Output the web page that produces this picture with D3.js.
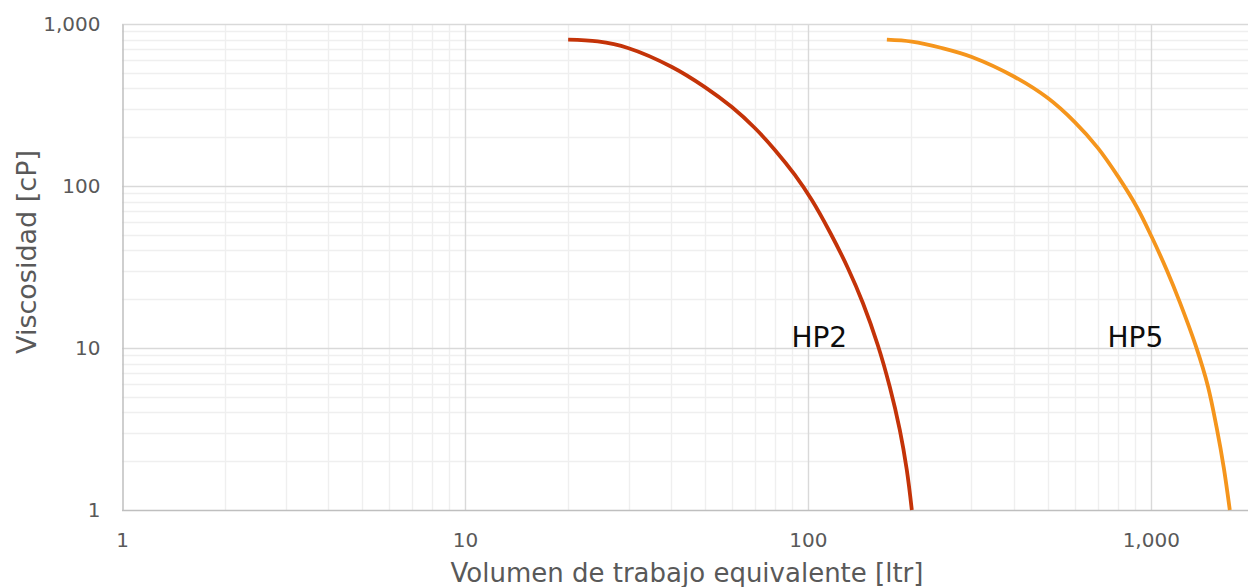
<!DOCTYPE html>
<html><head><meta charset="utf-8">
<script src="https://cdn.jsdelivr.net/npm/d3@7"></script>
<style>body{margin:0;background:#fff;overflow:hidden}svg{display:block}</style>
</head><body>
<svg id="c" width="1248" height="587"></svg>
<script>
// Data
const hp2Vol  = [20, 24.4, 29.87, 40.13, 50.09, 60.03, 70.05, 80.14, 91.65, 102.7, 115.9, 130.8, 144.7, 160.0, 173.4, 185.4, 194.3, 201];
const hp2Visc = [800, 780, 711, 543, 408, 307, 228, 167, 117, 81.9, 52.0, 31.2, 18.96, 10.4, 5.74, 3.12, 1.77, 1];
const hp5Vol  = [170, 201, 245.9, 300.7, 401.3, 500.9, 600.3, 700.7, 801.4, 910.4, 1006.7, 1113, 1215, 1353, 1467, 1557, 1633, 1700];
const hp5Visc = [800, 778, 711, 626, 471, 349, 248, 172, 115, 74.2, 48.4, 30.3, 19.2, 10.3, 5.83, 3.21, 1.82, 1];
const seriesNames = ["HP2", "HP5"];
const xTickValues = [1, 10, 100, 1000];
const xTickLabels = ["1", "10", "100", "1,000"];
const yTickValues = [1, 10, 100, 1000];
const yTickLabels = ["1", "10", "100", "1,000"];
const labelVol  = [108, 902];
const labelVisc = [10, 10];

const svg = d3.select("#c");
const L = 122, R = 1254, T = 24, B = 510;
const FONT = "'DejaVu Sans', sans-serif";
const x = d3.scaleLog().domain([1, 2000]).range([L, R]);
const y = d3.scaleLog().domain([1, 1000]).range([B, T]);

const g = svg.append("g");
// minor gridlines
const minorX = [], minorY = [];
for (let d = 1; d <= 1000; d *= 10) for (let k = 2; k <= 9; k++) { if (d * k <= 2000) minorX.push(d * k); }
for (let d = 1; d < 1000; d *= 10) for (let k = 2; k <= 9; k++) minorY.push(d * k);
g.selectAll(".mx").data(minorX).join("line")
  .attr("x1", d => Math.round(x(d)) + 0.5).attr("x2", d => Math.round(x(d)) + 0.5)
  .attr("y1", T).attr("y2", B).attr("stroke", "#efefef").attr("stroke-width", 1.4);
g.selectAll(".my").data(minorY).join("line")
  .attr("y1", d => Math.round(y(d)) + 0.5).attr("y2", d => Math.round(y(d)) + 0.5)
  .attr("x1", L).attr("x2", 1248).attr("stroke", "#efefef").attr("stroke-width", 1.4);
// major gridlines
g.selectAll(".Mx").data(xTickValues.slice(1)).join("line")
  .attr("x1", d => Math.round(x(d)) + 0.5).attr("x2", d => Math.round(x(d)) + 0.5)
  .attr("y1", T).attr("y2", B).attr("stroke", "#d9d9d9").attr("stroke-width", 1.4);
g.selectAll(".My").data(yTickValues.slice(1)).join("line")
  .attr("y1", d => Math.round(y(d)) + 0.5).attr("y2", d => Math.round(y(d)) + 0.5)
  .attr("x1", L).attr("x2", 1248).attr("stroke", "#d9d9d9").attr("stroke-width", 1.4);

// axes
const xAxis = d3.axisBottom(x).tickValues(xTickValues).tickFormat((d, i) => xTickLabels[i]).tickSize(0).tickPadding(22);
const yAxis = d3.axisLeft(y).tickValues(yTickValues).tickFormat((d, i) => yTickLabels[i]).tickSize(0).tickPadding(22);
const gx = svg.append("g").attr("transform", `translate(0,${B + 0.5})`).call(xAxis);
const gy = svg.append("g").attr("transform", `translate(${L + 0.5},0)`).call(yAxis);
[gx, gy].forEach(a => {
  a.select(".domain").attr("stroke", "#bfbfbf").attr("stroke-width", 1.5);
  a.selectAll("text").attr("fill", "#595959").style("font-family", FONT).style("font-size", "20px");
});
gx.select(".domain").attr("d", `M${L},0H1248`);
gx.selectAll("text").attr("dy", "0.71em").attr("y", 22);

// lines
const colors = ["#c43308", "#f5951c"];
const data = [hp2Vol.map((v, i) => [v, hp2Visc[i]]), hp5Vol.map((v, i) => [v, hp5Visc[i]])];
const line = d3.line().x(d => x(d[0])).y(d => y(d[1])).curve(d3.curveCatmullRom.alpha(0.5));
svg.selectAll(".ser").data(data).join("path")
  .attr("d", line).attr("fill", "none")
  .attr("stroke", (d, i) => colors[i]).attr("stroke-width", 3.8);

// series labels
svg.selectAll(".lbl").data(seriesNames).join("text")
  .attr("x", (d, i) => x(labelVol[i])).attr("y", (d, i) => y(labelVisc[i]) - 1)
  .text(d => d).attr("text-anchor", "middle")
  .attr("fill", "#0d0d0d").style("font-family", FONT).style("font-size", "28px");

// axis titles
svg.append("text").attr("x", 687).attr("y", 582).attr("text-anchor", "middle")
  .attr("fill", "#595959").style("font-family", FONT).style("font-size", "26px")
  .text("Volumen de trabajo equivalente [ltr]");
svg.append("text").attr("transform", "translate(36,252) rotate(-90)").attr("text-anchor", "middle")
  .attr("fill", "#595959").style("font-family", FONT).style("font-size", "27px")
  .text("Viscosidad [cP]");
</script>
</body></html>
